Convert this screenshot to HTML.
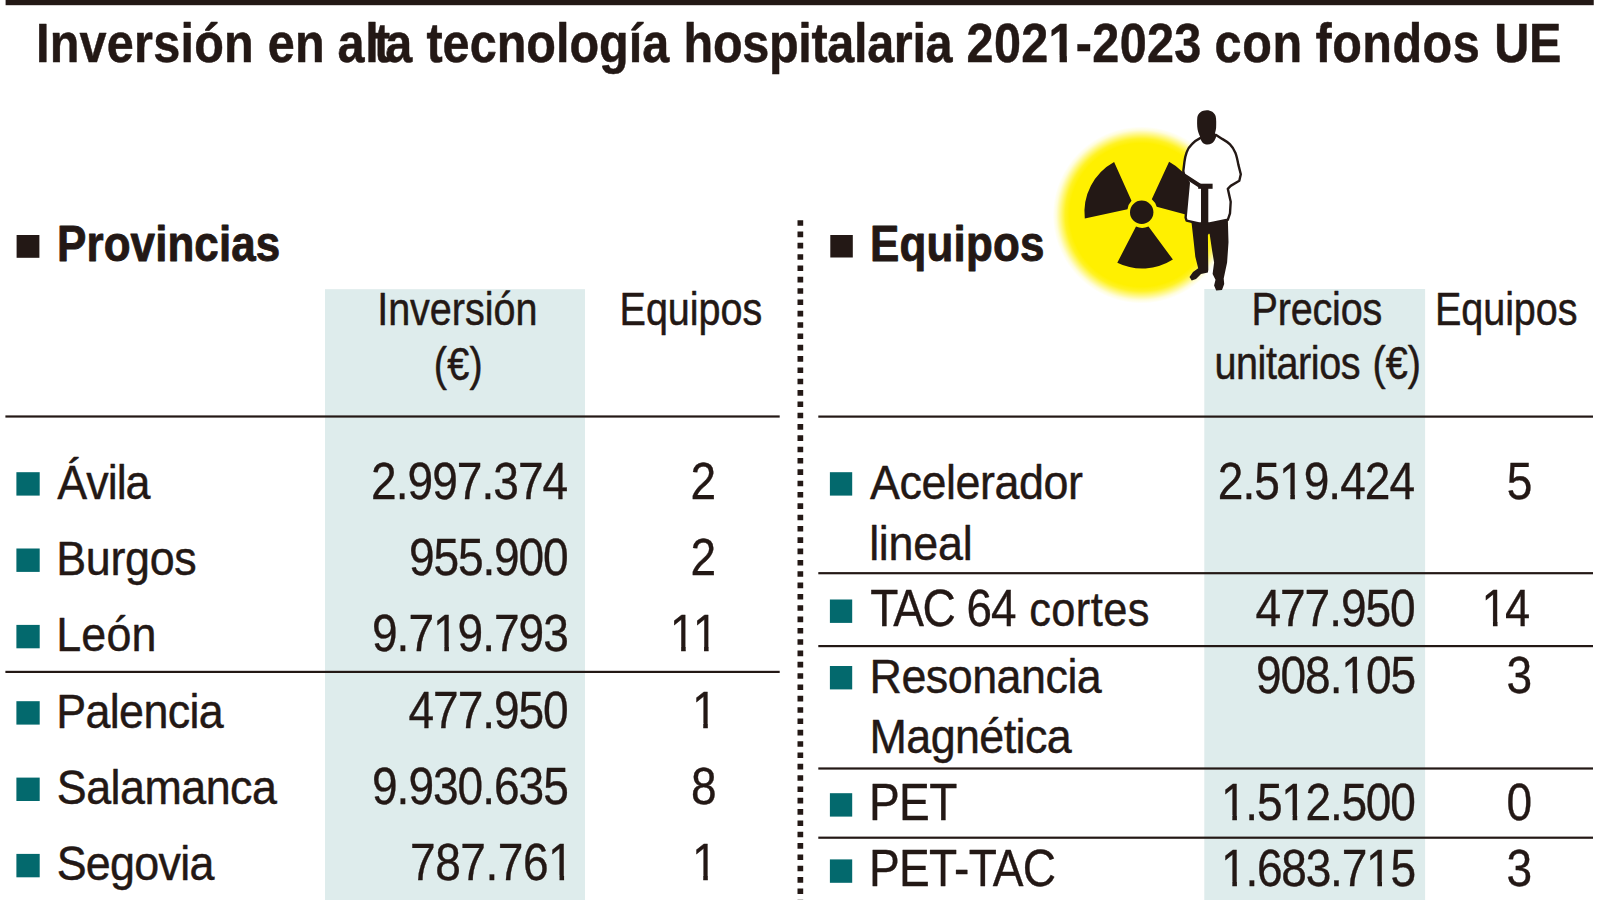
<!DOCTYPE html>
<html lang="es"><head><meta charset="utf-8"><title>Inversión en alta tecnología hospitalaria 2021-2023 con fondos UE</title>
<style>html,body{margin:0;padding:0;background:#fff}body{width:1600px;height:900px;overflow:hidden}svg{display:block}text{font-family:"Liberation Sans",Arial,Helvetica,sans-serif;fill:#231815;stroke:#231815;stroke-linejoin:round}.title{font-size:55.5px;font-weight:bold;stroke-width:0.5}.sec{font-size:50.2px;font-weight:bold;stroke-width:0.9}.hdr{font-size:46.3px;font-weight:normal;stroke-width:0.5}.row{font-size:48.5px;font-weight:normal;stroke-width:0.45}.num{font-size:51.2px;font-weight:normal;stroke-width:0.35}.caps{font-size:51.5px;font-weight:normal;stroke-width:0.35}.nk{font-kerning:none}</style></head><body>
<svg width="1600" height="900" viewBox="0 0 1600 900">
<defs><radialGradient id="glow" cx="50%" cy="50%" r="50%"><stop offset="0" stop-color="#fff000"/><stop offset="0.81" stop-color="#fff000"/><stop offset="0.86" stop-color="#fff000" stop-opacity="0.86"/><stop offset="0.91" stop-color="#fff000" stop-opacity="0.5"/><stop offset="0.96" stop-color="#fff000" stop-opacity="0.14"/><stop offset="1" stop-color="#fff000" stop-opacity="0"/></radialGradient><clipPath id="k1"><path d="M1059.08,-55.50H1092.32V16.65H1059.08ZM1090.32,-55.50H1123.57V16.65H1090.32ZM1121.57,-55.50H1154.81V16.65H1121.57ZM1152.81,-55.50H1174.71V-6.81H1152.81ZM1166.44,-7.81H1174.71V3.00H1166.44ZM1184.39,-55.50H1204.92V16.65H1184.39ZM1202.92,-55.50H1236.16V16.65H1202.92ZM1234.16,-55.50H1267.41V16.65H1234.16ZM1265.41,-55.50H1298.65V16.65H1265.41ZM1296.65,-55.50H1329.90V16.65H1296.65ZM-50.00,-55.50H1058.58V16.65H-50.00ZM1330.40,-55.50H3000.00V16.65H1330.40Z"/></clipPath><clipPath id="k2"><path d="M-1.00,-51.20H28.36V15.36H-1.00ZM26.36,-51.20H41.46V15.36H26.36ZM39.46,-51.20H68.82V15.36H39.46ZM66.82,-51.20H85.48V-4.90H66.82ZM80.44,-5.90H85.48V3.00H80.44ZM94.97,-51.20H123.53V15.36H94.97ZM121.53,-51.20H136.64V15.36H121.53ZM134.64,-51.20H164.00V15.36H134.64ZM162.00,-51.20H191.36V15.36H162.00ZM189.36,-51.20H218.71V15.36H189.36Z"/></clipPath><clipPath id="k3"><path d="M-1.00,-51.20H28.96V15.36H-1.00ZM26.96,-51.20H56.91V15.36H26.96ZM54.91,-51.20H84.87V15.36H54.91ZM82.87,-51.20H98.57V15.36H82.87ZM96.57,-51.20H126.53V15.36H96.57ZM124.53,-51.20H154.48V15.36H124.53ZM152.48,-51.20H171.14V-4.90H152.48ZM166.10,-5.90H171.14V3.00H166.10Z"/></clipPath><clipPath id="k4"><path d="M-1.00,-51.20H17.66V-4.90H-1.00ZM12.62,-5.90H17.66V3.00H12.62ZM24.44,-51.20H43.09V-4.90H24.44ZM38.06,-5.90H43.09V3.00H38.06Z"/></clipPath><clipPath id="k5"><path d="M-1.00,-51.20H17.66V-4.90H-1.00ZM12.62,-5.90H17.66V3.00H12.62Z"/></clipPath><clipPath id="k6"><path d="M-1.00,-51.20H17.66V-4.90H-1.00ZM12.62,-5.90H17.66V3.00H12.62Z"/></clipPath><clipPath id="k7"><path d="M-1.00,-51.20H28.43V15.36H-1.00ZM26.43,-51.20H41.62V15.36H26.43ZM39.62,-51.20H69.05V15.36H39.62ZM67.05,-51.20H85.70V-4.90H67.05ZM80.67,-5.90H85.70V3.00H80.67ZM95.20,-51.20H123.92V15.36H95.20ZM121.92,-51.20H137.10V15.36H121.92ZM135.10,-51.20H164.53V15.36H135.10ZM162.53,-51.20H191.97V15.36H162.53ZM189.97,-51.20H219.40V15.36H189.97Z"/></clipPath><clipPath id="k8"><path d="M-1.00,-51.20H28.29V15.36H-1.00ZM26.29,-51.20H55.59V15.36H26.29ZM53.59,-51.20H82.88V15.36H53.59ZM80.88,-51.20H95.93V15.36H80.88ZM93.93,-51.20H112.58V-4.90H93.93ZM107.55,-5.90H112.58V3.00H107.55ZM122.08,-51.20H150.52V15.36H122.08ZM148.52,-51.20H177.81V15.36H148.52Z"/></clipPath><clipPath id="k9"><path d="M-1.00,-51.20H17.66V-4.90H-1.00ZM12.62,-5.90H17.66V3.00H12.62ZM27.15,-51.20H40.89V15.36H27.15ZM38.89,-51.20H67.97V15.36H38.89ZM65.97,-51.20H84.62V-4.90H65.97ZM79.59,-5.90H84.62V3.00H79.59ZM94.12,-51.20H122.11V15.36H94.12ZM120.11,-51.20H134.93V15.36H120.11ZM132.93,-51.20H162.00V15.36H132.93ZM160.00,-51.20H189.08V15.36H160.00ZM187.08,-51.20H216.15V15.36H187.08Z"/></clipPath><clipPath id="k10"><path d="M-1.00,-51.20H17.66V-4.90H-1.00ZM12.62,-5.90H17.66V3.00H12.62ZM27.15,-51.20H40.96V15.36H27.15ZM38.96,-51.20H68.06V15.36H38.96ZM66.06,-51.20H95.16V15.36H66.06ZM93.16,-51.20H122.27V15.36H93.16ZM120.27,-51.20H135.12V15.36H120.27ZM133.12,-51.20H162.22V15.36H133.12ZM160.22,-51.20H178.88V-4.90H160.22ZM173.84,-5.90H178.88V3.00H173.84ZM188.37,-51.20H216.43V15.36H188.37Z"/></clipPath><clipPath id="k11"><path d="M-1.00,-51.20H17.66V-4.90H-1.00ZM12.62,-5.90H17.66V3.00H12.62ZM27.15,-51.20H52.50V15.36H27.15Z"/></clipPath></defs>
<rect width="1600" height="900" fill="#fff"/>
<rect x="5.6" y="0" width="1588.15" height="5.2" fill="#231815"/>
<rect x="325" y="289.2" width="260" height="611" fill="#deecec"/>
<rect x="1204.3" y="289" width="220.8" height="611" fill="#deecec"/>
<line x1="800.35" y1="220.2" x2="800.35" y2="900" stroke="#231815" stroke-width="5.7" stroke-dasharray="5.6 5.725"/>
<rect x="5.4" y="415.40" width="774.3" height="2.2" fill="#231815"/>
<rect x="5.4" y="670.80" width="774.3" height="2.2" fill="#231815"/>
<rect x="818.3" y="415.50" width="774.7" height="2.2" fill="#231815"/>
<rect x="818.3" y="572.10" width="774.7" height="2.2" fill="#231815"/>
<rect x="818.3" y="645.00" width="774.7" height="2.2" fill="#231815"/>
<rect x="818.3" y="767.40" width="774.7" height="2.2" fill="#231815"/>
<rect x="818.3" y="836.60" width="774.7" height="2.2" fill="#231815"/>
<rect x="16.6" y="235.0" width="22.8" height="22.8" fill="#231815"/>
<rect x="830.3" y="235.0" width="22.5" height="22.5" fill="#231815"/>
<rect x="16.4" y="472.2" width="23.3" height="23.4" fill="#03696d"/>
<rect x="16.4" y="548.5" width="23.3" height="23.4" fill="#03696d"/>
<rect x="16.4" y="624.9" width="23.3" height="23.4" fill="#03696d"/>
<rect x="16.4" y="701.2" width="23.3" height="23.4" fill="#03696d"/>
<rect x="16.4" y="777.6" width="23.3" height="23.4" fill="#03696d"/>
<rect x="16.4" y="853.9" width="23.3" height="23.4" fill="#03696d"/>
<rect x="829.9" y="472.2" width="22.3" height="23.4" fill="#03696d"/>
<rect x="829.9" y="599.5" width="22.3" height="23.4" fill="#03696d"/>
<rect x="829.9" y="666.0" width="22.3" height="23.4" fill="#03696d"/>
<rect x="829.9" y="793.2" width="22.3" height="23.4" fill="#03696d"/>
<rect x="829.9" y="859.4" width="22.3" height="23.4" fill="#03696d"/>
<g id="icon">
<circle cx="1141.3" cy="215" r="88.5" fill="url(#glow)"/>
<circle cx="1141.7" cy="212.2" r="11.7" fill="#231815"/>
<path fill="#231815" d="M1114.1,162 A57.3,57.3 0 0 0 1084.8,218.5 L1127.5,209.2 A15,15 0 0 1 1131.5,200.7 Z"/>
<path fill="#231815" d="M1169.1,161.8 A57.3,57.3 0 0 1 1198.6,218 L1156.7,206.7 A15,15 0 0 0 1151.8,199.2 Z"/>
<path fill="#231815" d="M1117.3,262.7 A57,57 0 0 0 1172.9,259.6 L1148.5,226.5 A15.5,15.5 0 0 1 1136,226.6 Z"/>
<path fill="#231815" d="M1190.5,219 L1191.7,224 L1193.5,240 L1195.3,256.7 L1198.2,268.2 L1193,272 L1189.5,276.9 L1191.7,280.5 L1196,279 L1201,274 L1207.9,272.6 L1208.3,269.7 L1207.9,235 L1209,233.6 L1209.7,234.3 L1212,250 L1214.1,262.5 L1212.6,274 L1215.5,279.8 L1214.1,285.6 L1216.2,290.6 L1222,289.9 L1224.2,284.1 L1223.7,278.4 L1227.1,262.5 L1228.5,242.2 L1227.8,218 Z"/>
<path fill="#fff" stroke="#231815" stroke-width="2.4" stroke-linejoin="round" d="M1200.6,137.8 C1196,140 1194,142 1192.2,143.9 C1189,147 1187.5,149.5 1186.7,152.2 C1185.3,156 1184.8,159 1184.4,162.2 L1183.3,171.1 L1184.5,176.5 L1188.8,183 L1187.3,198.9 L1185.6,217.7 L1186.6,220.6 L1198.9,223.5 L1209.7,223.5 L1227.8,219.8 L1230,213.3 L1230.7,201.8 L1227.8,188.8 L1230.7,185.9 L1239.3,180.8 L1240.8,174.3 L1238.3,164.4 C1237.5,160 1236.8,156.5 1235.6,153.3 C1234,149.5 1232.5,146.8 1230,144.4 C1227.5,142 1225,140.5 1222.2,138.9 L1216.1,135 Z"/>
<path fill="#231815" d="M1206.7,110.2 C1211,110.2 1214.5,112.5 1215.6,116 C1216.4,119 1216.3,124 1216.1,128 C1215.8,130.5 1215.2,132 1215,133.5 L1216.6,135.5 C1215.5,139.5 1213.5,142.5 1211.5,143.6 C1209,144.8 1205.5,144.8 1203.2,143.2 C1201.5,141.8 1200.6,139.5 1200.2,137.3 C1199.5,135 1198.2,132.5 1197.6,129.5 C1197,126 1197,121 1197.3,117.5 C1198,113 1202,110.2 1206.7,110.2 Z"/>
<rect x="1201" y="186" width="7.3" height="38" fill="#231815"/>
<rect x="1198.2" y="183.7" width="14.4" height="5.1" fill="#231815"/>
<path d="M1182.5,174.5 L1199.5,185.5" stroke="#231815" stroke-width="4.2" stroke-linecap="round" fill="none"/>
</g>

<text class="title nk" transform="translate(39.00,62.20) scale(0.875,1)" clip-path="url(#k1)"><tspan x="-3.50" letter-spacing="0.286">Inversión </tspan><tspan x="261.31" letter-spacing="0.500">en </tspan><tspan x="341.07" dx="0 0 -6.5 -6.5" letter-spacing="0.940">alta </tspan><tspan x="442.81" letter-spacing="0.009">tecnología </tspan><tspan x="736.71" letter-spacing="-0.366">hospitalaria </tspan><tspan x="1060.08" letter-spacing="0.379">2021-2023 </tspan><tspan x="1343.43" letter-spacing="0.764">con </tspan><tspan x="1458.96" letter-spacing="0.544">fondos </tspan><tspan x="1663.17" letter-spacing="-0.250">UE</tspan></text>
<text class="sec" transform="translate(57.08,261.40) scale(0.875,1)" letter-spacing="0.121">Provincias</text>
<text class="sec" transform="translate(869.88,261.40) scale(0.875,1)" letter-spacing="0.268">Equipos</text>
<text class="hdr" transform="translate(380.60,325.40) scale(0.855,1)"><tspan x="-4.00" y="0.00" letter-spacing="-0.052">Inversión </tspan><tspan x="62.05" y="55.00" letter-spacing="0.457">(€)</tspan></text>
<text class="hdr" transform="translate(619.51,325.40) scale(0.855,1)" letter-spacing="-0.037">Equipos</text>
<text class="hdr" transform="translate(1254.40,325.20) scale(0.855,1)"><tspan x="-3.50" y="0.00" letter-spacing="-0.199">Precios </tspan><tspan x="-46.73" y="53.60" letter-spacing="-0.510">unitarios </tspan><tspan x="138.07" y="53.60" letter-spacing="0.048">(€)</tspan></text>
<text class="hdr" transform="translate(1435.01,325.40) scale(0.855,1)" letter-spacing="-0.105">Equipos</text>
<text class="row" transform="translate(57.30,498.80) scale(0.925,1)" letter-spacing="-1.069">Ávila</text>
<text class="row" transform="translate(56.23,575.10) scale(0.925,1)" letter-spacing="-0.338">Burgos</text>
<text class="row" transform="translate(56.23,651.40) scale(0.925,1)" letter-spacing="0.160">León</text>
<text class="row" transform="translate(56.23,727.80) scale(0.925,1)" letter-spacing="-0.697">Palencia</text>
<text class="row" transform="translate(56.75,804.20) scale(0.925,1)" letter-spacing="-0.571">Salamanca</text>
<text class="row" transform="translate(56.65,880.40) scale(0.925,1)" letter-spacing="-0.773">Segovia</text>
<text class="num nk" transform="translate(371.05,498.80) scale(0.9,1)" letter-spacing="-1.083">2.997.374</text>
<text class="num nk" transform="translate(408.88,575.10) scale(0.9,1)" letter-spacing="-1.241">955.900</text>
<text class="num nk" transform="translate(371.98,651.40) scale(0.9,1)" letter-spacing="-1.118" clip-path="url(#k2)">9.719.793</text>
<text class="num nk" transform="translate(408.50,727.80) scale(0.9,1)" letter-spacing="-1.171">477.950</text>
<text class="num nk" transform="translate(371.98,804.20) scale(0.9,1)" letter-spacing="-1.118">9.930.635</text>
<text class="num nk" transform="translate(410.05,880.40) scale(0.9,1)" letter-spacing="-0.520" clip-path="url(#k3)">787.761</text>
<text class="num nk" transform="translate(690.62,498.80) scale(0.9,1)">2</text>
<text class="num nk" transform="translate(690.62,575.10) scale(0.9,1)">2</text>
<text class="num nk" transform="translate(669.80,651.40) scale(0.9,1)" letter-spacing="-3.039" clip-path="url(#k4)">11</text>
<text class="num nk" transform="translate(691.90,727.80) scale(0.9,1)" clip-path="url(#k5)">1</text>
<text class="num nk" transform="translate(690.97,804.20) scale(0.9,1)">8</text>
<text class="num nk" transform="translate(691.90,880.40) scale(0.9,1)" clip-path="url(#k6)">1</text>
<text class="row" transform="translate(870.00,498.90) scale(0.925,1)"><tspan x="0.00" y="0.00" letter-spacing="-0.474">Acelerador </tspan><tspan x="-0.95" y="61.40" letter-spacing="-0.239">lineal</tspan></text>
<text class="caps" transform="translate(871.20,626.10) scale(0.895,1)"><tspan x="-1.00" letter-spacing="-1.868">TAC </tspan><tspan class="num" x="106.55" letter-spacing="-1.156">64 </tspan><tspan class="row" x="176.57" letter-spacing="0.440">cortes</tspan></text>
<text class="row" transform="translate(873.00,692.80) scale(0.925,1)"><tspan x="-3.75" y="0.00" letter-spacing="-0.552">Resonancia </tspan><tspan x="-3.75" y="60.60" letter-spacing="-0.639">Magnética</tspan></text>
<text class="caps" transform="translate(868.92,820.00) scale(0.895,1)" letter-spacing="-0.642">PET</text>
<text class="caps" transform="translate(868.92,886.30) scale(0.895,1)" letter-spacing="-0.733">PET-TAC</text>
<text class="num nk" transform="translate(1217.75,498.90) scale(0.9,1)" letter-spacing="-1.042" clip-path="url(#k7)">2.519.424</text>
<text class="num nk" transform="translate(1255.40,626.10) scale(0.9,1)" letter-spacing="-1.153">477.950</text>
<text class="num nk" transform="translate(1255.97,692.80) scale(0.9,1)" letter-spacing="-1.181" clip-path="url(#k8)">908.105</text>
<text class="num nk" transform="translate(1221.00,820.00) scale(0.9,1)" letter-spacing="-1.403" clip-path="url(#k9)">1.512.500</text>
<text class="num nk" transform="translate(1221.00,886.30) scale(0.9,1)" letter-spacing="-1.372" clip-path="url(#k10)">1.683.715</text>
<text class="num nk" transform="translate(1506.77,498.90) scale(0.9,1)">5</text>
<text class="num nk" transform="translate(1481.60,626.10) scale(0.9,1)" letter-spacing="-2.725" clip-path="url(#k11)">14</text>
<text class="num nk" transform="translate(1506.39,692.80) scale(0.9,1)">3</text>
<text class="num nk" transform="translate(1506.42,820.00) scale(0.9,1)">0</text>
<text class="num nk" transform="translate(1506.39,886.30) scale(0.9,1)">3</text>
</svg></body></html>
